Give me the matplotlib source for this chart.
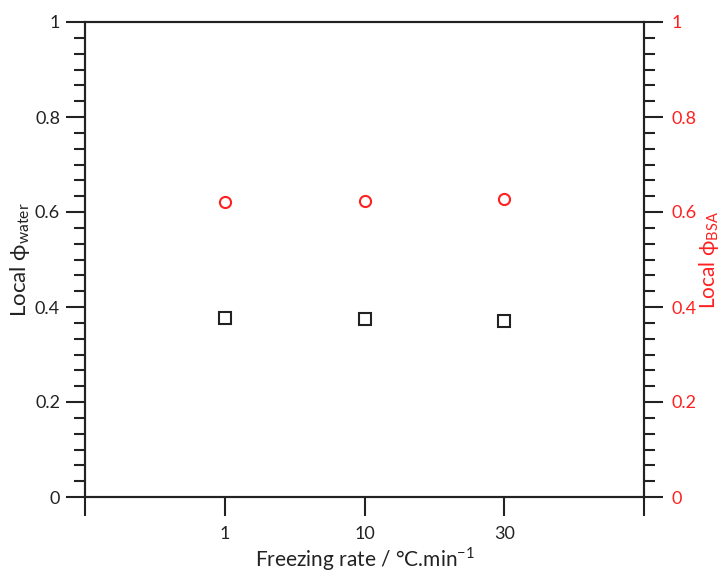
import matplotlib
matplotlib.use("Agg")
import matplotlib.pyplot as plt
from matplotlib.ticker import MultipleLocator, FixedLocator

plt.rcParams['font.family'] = ['Lato', 'DejaVu Sans']
plt.rcParams['mathtext.fontset'] = 'custom'
plt.rcParams['mathtext.rm'] = 'Lato'

categories = ['1', '10', '30']
phi_water = [0.377, 0.374, 0.371]
phi_bsa = [0.621, 0.624, 0.627]

fig = plt.figure(figsize=(7.21, 5.74), dpi=100)
ax = fig.add_axes([85/721, 1-497/574, (644-85)/721, (497-22)/574])
ax2 = ax.twinx()

xpos = list(range(1, len(categories) + 1))
ax.plot(xpos, phi_water, linestyle='none', marker='s', markersize=9,
        markerfacecolor='none', markeredgecolor='#222222', markeredgewidth=1.5)
ax2.plot(xpos, phi_bsa, linestyle='none', marker='o', markersize=8,
         markerfacecolor='none', markeredgecolor='#ff2020', markeredgewidth=1.5)

ax.set_xlim(0, len(categories) + 1)
ax.set_ylim(0, 1)
ax2.set_ylim(0, 1)

ax.xaxis.set_major_locator(FixedLocator(range(0, len(categories) + 2)))
ax.set_xticklabels([''] + categories + [''])

for a in (ax, ax2):
    a.yaxis.set_major_locator(MultipleLocator(0.2))
    a.yaxis.set_minor_locator(MultipleLocator(0.2/6))
    for s in a.spines.values():
        s.set_linewidth(1.5)
        s.set_color('#222222')

ax.yaxis.set_major_formatter(plt.FuncFormatter(lambda v, p: f'{v:g}'))
ax2.yaxis.set_major_formatter(plt.FuncFormatter(lambda v, p: f'{v:g}'))

ax.tick_params(axis='y', which='major', direction='out', length=14, width=1.5,
               labelsize=13, color='#222222', labelcolor='#222222', pad=4)
ax.tick_params(axis='y', which='minor', direction='out', length=8, width=1.5, color='#222222')
ax.tick_params(axis='x', which='major', direction='out', length=14, width=1.5,
               labelsize=13, color='#222222', labelcolor='#222222', pad=7)
ax2.tick_params(axis='y', which='major', direction='out', length=14, width=1.5,
                labelsize=13, color='#222222', labelcolor='#ff2020', pad=6)
ax2.tick_params(axis='y', which='minor', direction='out', length=8, width=1.5, color='#222222')

ax.set_xlabel('Freezing rate / °C.min$^{\\mathregular{-1}}$', fontsize=15, color='#222222', labelpad=2)
ax.set_ylabel('Local ϕ$_{\\mathregular{water}}$', fontsize=16, color='#222222', labelpad=2)
ax2.set_ylabel('Local ϕ$_{\\mathregular{BSA}}$', fontsize=15, color='#ff2020', labelpad=0)

fig.savefig('out.png', dpi=100)
